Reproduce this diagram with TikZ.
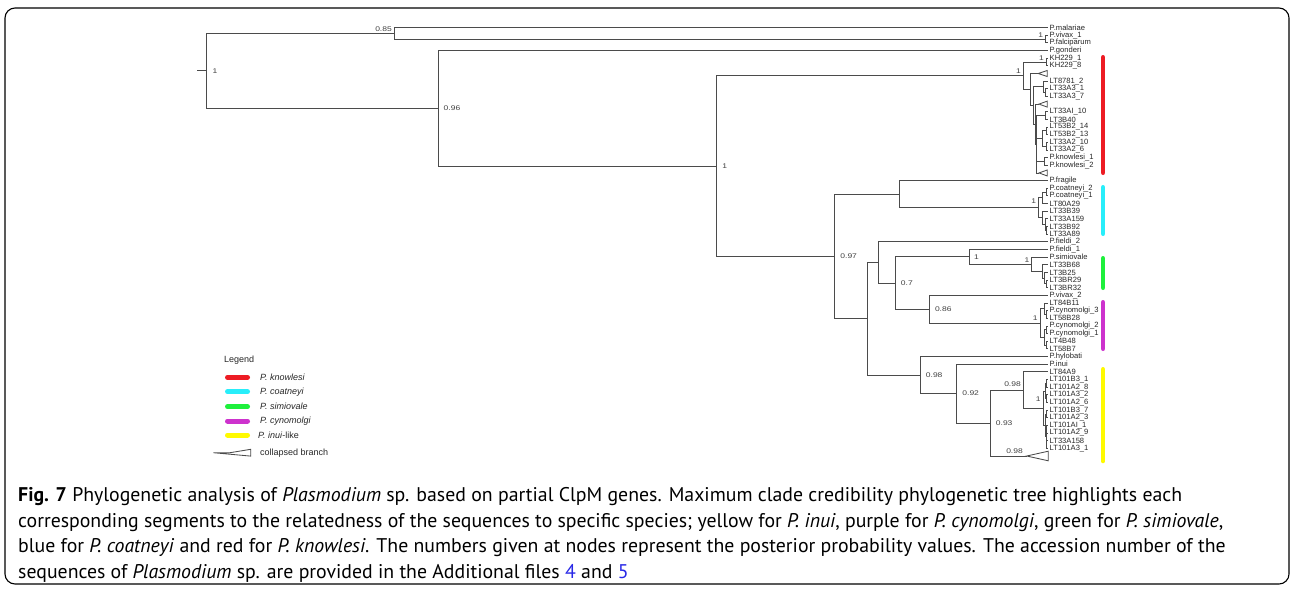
\documentclass[tikz,border=0pt]{standalone}
\usepackage{fontspec}
\setmainfont{Liberation Sans}
\newfontfamily\capfont{PT Sans}
\newfontfamily\suppfont[FakeStretch=1.25]{Liberation Sans}
\definecolor{kred}{RGB}{237,28,36}
\definecolor{kcyan}{RGB}{40,238,250}
\definecolor{kgreen}{RGB}{30,240,60}
\definecolor{kmag}{RGB}{205,50,205}
\definecolor{kyel}{RGB}{255,250,0}
\definecolor{linkblue}{RGB}{40,40,230}
\definecolor{treegray}{RGB}{75,75,75}
\begin{document}
\begin{tikzpicture}[x=1pt,y=-1pt,
  br/.style={draw=treegray,line width=0.85pt},
  leaf/.style={anchor=west,inner xsep=1.5pt,inner ysep=0.3pt,font=\fontsize{7.6}{8}\selectfont,text=black!85},
  supp/.style={font=\suppfont\fontsize{6.8}{7}\selectfont,text=black!75,inner sep=0.5pt},
  bar/.style={line width=4.6pt,line cap=round},
  lbar/.style={line width=5pt,line cap=round},
  legtext/.style={anchor=west,inner sep=0pt,font=\fontsize{9}{10}\selectfont,text=black!85},
  capline/.style={anchor=base west,inner sep=0pt,font=\capfont\fontsize{19.8}{22}\selectfont}]
\useasboundingbox (0,0) rectangle (1295,590);
\draw[line width=1.1pt,rounded corners=10pt] (5,8) rectangle (1289,584);

% leaves
\node[leaf] (L1) at (1048,27.6) {P.malariae};
\node[leaf] (L2) at (1048,35.25) {P.vivax\_1};
\node[leaf] (L3) at (1048,42.9) {P.falciparum};
\node[leaf] (L4) at (1048,50.55) {P.gonderi};
\node[leaf] (L5) at (1048,58.2) {KH229\_1};
\node[leaf] (L6) at (1048,65.85) {KH229\_8};
\node[leaf] (L8) at (1048,81.15) {LT8781\_2};
\node[leaf] (L9) at (1048,88.8) {LT33A3\_1};
\node[leaf] (L10) at (1048,96.45) {LT33A3\_7};
\node[leaf] (L12) at (1048,111.75) {LT33AI\_10};
\node[leaf] (L13) at (1048,119.4) {LT3B40};
\node[leaf] (L14) at (1048,127.05) {LT53B2\_14};
\node[leaf] (L15) at (1048,134.7) {LT53B2\_13};
\node[leaf] (L16) at (1048,142.35) {LT33A2\_10};
\node[leaf] (L17) at (1048,150.0) {LT33A2\_6};
\node[leaf] (L18) at (1048,157.65) {P.knowlesi\_1};
\node[leaf] (L19) at (1048,165.3) {P.knowlesi\_2};
\node[leaf] (L21) at (1048,180.6) {P.fragile};
\node[leaf] (L22) at (1048,188.25) {P.coatneyi\_2};
\node[leaf] (L23) at (1048,195.9) {P.coatneyi\_1};
\node[leaf] (L24) at (1048,203.55) {LT80A29};
\node[leaf] (L25) at (1048,211.2) {LT33B39};
\node[leaf] (L26) at (1048,218.85) {LT33A159};
\node[leaf] (L27) at (1048,226.5) {LT33B92};
\node[leaf] (L28) at (1048,234.15) {LT33A89};
\node[leaf] (L29) at (1048,241.8) {P.fieldi\_2};
\node[leaf] (L30) at (1048,249.45) {P.fieldi\_1};
\node[leaf] (L31) at (1048,257.1) {P.simiovale};
\node[leaf] (L32) at (1048,264.75) {LT33B68};
\node[leaf] (L33) at (1048,272.4) {LT3B25};
\node[leaf] (L34) at (1048,280.05) {LT3BR29};
\node[leaf] (L35) at (1048,287.7) {LT3BR32};
\node[leaf] (L36) at (1048,295.35) {P.vivax\_2};
\node[leaf] (L37) at (1048,303.0) {LT84B11};
\node[leaf] (L38) at (1048,310.65) {P.cynomolgi\_3};
\node[leaf] (L39) at (1048,318.3) {LT58B28};
\node[leaf] (L40) at (1048,325.95) {P.cynomolgi\_2};
\node[leaf] (L41) at (1048,333.6) {P.cynomolgi\_1};
\node[leaf] (L42) at (1048,341.25) {LT4B48};
\node[leaf] (L43) at (1048,348.9) {LT58B7};
\node[leaf] (L44) at (1048,356.55) {P.hylobati};
\node[leaf] (L45) at (1048,364.2) {P.inui};
\node[leaf] (L46) at (1048,371.85) {LT84A9};
\node[leaf] (L47) at (1048,379.5) {LT101B3\_1};
\node[leaf] (L48) at (1048,387.15) {LT101A2\_8};
\node[leaf] (L49) at (1048,394.8) {LT101A3\_2};
\node[leaf] (L50) at (1048,402.45) {LT101A2\_6};
\node[leaf] (L51) at (1048,410.1) {LT101B3\_7};
\node[leaf] (L52) at (1048,417.75) {LT101A2\_3};
\node[leaf] (L53) at (1048,425.4) {LT101AI\_1};
\node[leaf] (L54) at (1048,433.05) {LT101A2\_9};
\node[leaf] (L55) at (1048,440.7) {LT33A158};
\node[leaf] (L56) at (1048,448.35) {LT101A3\_1};

% internal nodes
\coordinate (Rs) at (197.3,70.85);
\coordinate (R) at (206,70.85);
\coordinate (N085) at (394,33.34);
\coordinate (Nvf) at (1045,39.08);
\coordinate (N096) at (438,108.35);
\coordinate (N1a) at (716.7,166.14);
\coordinate (Nk) at (1023.3,75.78);
\coordinate (Nkh) at (1046,62.03);
\coordinate (Nb) at (1030.7,89.52);
\coordinate (T7) at (1038.3,73.5);
\coordinate (Nc) at (1033.5,105.53);
\coordinate (Nd) at (1043,86.89);
\coordinate (Nd2) at (1045.5,92.63);
\coordinate (Ne) at (1035,124.18);
\coordinate (T11) at (1039,104.1);
\coordinate (Nf) at (1036.5,144.27);
\coordinate (Ng) at (1045,115.58);
\coordinate (Nh) at (1042,138.53);
\coordinate (Nh1) at (1046,130.88);
\coordinate (Nh2) at (1046,146.18);
\coordinate (Ni) at (1044.5,161.48);
\coordinate (T20) at (1039,172.95);
\coordinate (N097) at (834.7,256.49);
\coordinate (Nfr) at (899,194.23);
\coordinate (Ncoat) at (1038.5,207.86);
\coordinate (Nc1) at (1042,197.81);
\coordinate (Nc11) at (1046,192.08);
\coordinate (Nc2) at (1042.5,217.9);
\coordinate (Nc21) at (1045,224.59);
\coordinate (Nc22) at (1046.5,230.33);
\coordinate (N867) at (867.3,318.75);
\coordinate (N878) at (878.3,262.42);
\coordinate (N07) at (895.7,283.04);
\coordinate (N1s) at (969.3,256.86);
\coordinate (Nsim) at (1031.7,264.27);
\coordinate (Ns2) at (1042,271.44);
\coordinate (Ns3) at (1044.5,278.14);
\coordinate (Ns4) at (1046.5,283.88);
\coordinate (N086) at (929.3,309.22);
\coordinate (Ncyn) at (1040,323.08);
\coordinate (Ncy1) at (1044.5,308.74);
\coordinate (Ncy11) at (1046.5,314.48);
\coordinate (Ncy2) at (1044,337.43);
\coordinate (Ncy21) at (1046.5,329.78);
\coordinate (Ncy22) at (1046,345.08);
\coordinate (N098a) at (920.7,375.08);
\coordinate (N092) at (956.7,393.6);
\coordinate (N093) at (990.7,423.01);
\coordinate (N098b) at (1023.3,390.02);
\coordinate (T57) at (1026.7,456);
\coordinate (Nin) at (1043.3,408.19);
\coordinate (Nin1) at (1045.5,390.98);
\coordinate (Nin11) at (1046.8,383.33);
\coordinate (Nin12) at (1046.8,398.63);
\coordinate (Nin2) at (1045,425.4);
\coordinate (Nin21) at (1046.8,413.93);
\coordinate (Nin22) at (1046.3,436.88);

% branches
\draw[br] (Rs) -- (R);
\foreach \p/\c in {R/N085,R/N096,N085/L1,N085/Nvf,Nvf/L2,Nvf/L3,N096/L4,N096/N1a,
  N1a/Nk,N1a/N097,Nk/Nkh,Nk/Nb,Nkh/L5,Nkh/L6,Nb/T7,Nb/Nc,Nc/Nd,Nc/Ne,Nd/L8,Nd/Nd2,
  Nd2/L9,Nd2/L10,Ne/T11,Ne/Nf,Nf/Ng,Nf/Nh,Nf/Ni,Nf/T20,Ng/L12,Ng/L13,Nh/Nh1,Nh/Nh2,
  Nh1/L14,Nh1/L15,Nh2/L16,Nh2/L17,Ni/L18,Ni/L19,
  N097/Nfr,N097/N867,Nfr/L21,Nfr/Ncoat,Ncoat/Nc1,Ncoat/Nc2,Nc1/Nc11,Nc1/L24,
  Nc11/L22,Nc11/L23,Nc2/L25,Nc2/Nc21,Nc21/L26,Nc21/Nc22,Nc22/L27,Nc22/L28,
  N867/N878,N867/N098a,N878/L29,N878/N07,N07/N1s,N07/N086,N1s/L30,N1s/Nsim,
  Nsim/L31,Nsim/Ns2,Ns2/L32,Ns2/Ns3,Ns3/L33,Ns3/Ns4,Ns4/L34,Ns4/L35,
  N086/L36,N086/Ncyn,Ncyn/Ncy1,Ncyn/Ncy2,Ncy1/L37,Ncy1/Ncy11,Ncy11/L38,Ncy11/L39,
  Ncy2/Ncy21,Ncy2/Ncy22,Ncy21/L40,Ncy21/L41,Ncy22/L42,Ncy22/L43,
  N098a/L44,N098a/N092,N092/L45,N092/N093,N093/N098b,N093/T57,N098b/L46,N098b/Nin,
  Nin/Nin1,Nin/Nin2,Nin1/Nin11,Nin1/Nin12,Nin11/L47,Nin11/L48,Nin12/L49,Nin12/L50,
  Nin2/Nin21,Nin2/Nin22,Nin21/L51,Nin21/L52,Nin22/L53,Nin22/L54,Nin22/L55,Nin22/L56}
  {\draw[br] (\p) |- (\c);}

% collapsed branches
\draw[br] (T7) -- (1047.3,70.5) -- (1047.3,76.5) -- cycle;
\draw[br] (T11) -- (1047.3,101.1) -- (1047.3,107.1) -- cycle;
\draw[br] (T20) -- (1047.3,169.95) -- (1047.3,175.95) -- cycle;
\draw[br] (T57) -- (1048.3,451.2) -- (1048.3,460.8) -- cycle;

% support values
\node[supp,anchor=west] (sR) at ([xshift=6pt]R) {1};
\node[supp,anchor=south east] (s085) at (392.5,32) {0.85};
\node[supp,anchor=south east] (svf) at (1043.8,38) {1};
\node[supp,anchor=west] (s096) at ([xshift=5pt]N096) {0.96};
\node[supp,anchor=west] (s1a) at ([xshift=5pt]N1a) {1};
\node[supp,anchor=south east] (sk) at (1021.5,74.5) {1};
\node[supp,anchor=south east] (skh) at (1044.5,61) {1};
\node[supp,anchor=west] (s097) at ([xshift=5pt]N097) {0.97};
\node[supp,anchor=south east] (scoat) at (1036.8,204.5) {1};
\node[supp,anchor=west] (s07) at ([xshift=4.5pt]N07) {0.7};
\node[supp,anchor=west] (s1s) at ([xshift=4pt]N1s) {1};
\node[supp,anchor=south east] (ssim) at (1030,263) {1};
\node[supp,anchor=west] (s086) at ([xshift=5pt]N086) {0.86};
\node[supp,anchor=south east] (scyn) at (1038.3,321.5) {1};
\node[supp,anchor=west] (s098a) at ([xshift=4.5pt]N098a) {0.98};
\node[supp,anchor=west] (s092) at ([xshift=5pt]N092) {0.92};
\node[supp,anchor=west] (s093) at ([xshift=4.5pt]N093) {0.93};
\node[supp,anchor=south east] (s098b) at (1021.5,387.5) {0.98};
\node[supp,anchor=south east] (sin) at (1041.3,402) {1};
\node[supp,anchor=south east] (s098c) at (1023.5,454.5) {0.98};

% clade bars
\draw[bar,kred] (1103,57.3) coordinate (bk1) -- (1103,172.7) coordinate (bk2);
\draw[bar,kcyan] (1103,187.3) coordinate (bc1) -- (1103,233.7) coordinate (bc2);
\draw[bar,kgreen] (1103,258.3) coordinate (bs1) -- (1103,287.7) coordinate (bs2);
\draw[bar,kmag] (1103,302.3) coordinate (bm1) -- (1103,348.7) coordinate (bm2);
\draw[bar,kyel] (1103,369.3) coordinate (bi1) -- (1103,461) coordinate (bi2);

% legend
\node[legtext] (legend) at (224,360) {Legend};
\coordinate (lk1) at (227.5,377.3); \coordinate (lk2) at (247.5,377.3);
\coordinate (lc1) at (227.5,391.7); \coordinate (lc2) at (247.5,391.7);
\coordinate (ls1) at (227.5,406.7); \coordinate (ls2) at (247.5,406.7);
\coordinate (lm1) at (227.5,421); \coordinate (lm2) at (247.5,421);
\coordinate (li1) at (227.5,435); \coordinate (li2) at (247.5,435);
\draw[lbar,kred] (lk1) -- (lk2);
\draw[lbar,kcyan] (lc1) -- (lc2);
\draw[lbar,kgreen] (ls1) -- (ls2);
\draw[lbar,kmag] (lm1) -- (lm2);
\draw[lbar,kyel] (li1) -- (li2);
\node[legtext] (tk) at (260,377.3) {\itshape P. knowlesi};
\node[legtext] (tc) at (260,391.7) {\itshape P. coatneyi};
\node[legtext] (ts) at (260,406.7) {\itshape P. simiovale};
\node[legtext] (tm) at (260,421) {\itshape P. cynomolgi};
\node[legtext] (ti) at (258,435) {\itshape P. inui\/\upshape-like};
\coordinate (lt0) at (213.3,452.7);
\coordinate (lt1) at (230,452.7);
\draw[br] (lt0) -- (lt1) -- (250.7,449.3) -- (250.7,456.1) -- cycle;
\node[legtext] (tcb) at (260,452.7) {collapsed branch};

% caption
\node[capline] (cap1) at (18,501.5) {\textbf{Fig. 7} Phylogenetic analysis of \textit{Plasmodium} sp. based on partial ClpM genes. Maximum clade credibility phylogenetic tree highlights each};
\node[capline] (cap2) at (18,527) {corresponding segments to the relatedness of the sequences to specific species; yellow for \textit{P. inui}, purple for \textit{P. cynomolgi}, green for \textit{P. simiovale},};
\node[capline] (cap3) at (18,552.5) {blue for \textit{P. coatneyi} and red for \textit{P. knowlesi}. The numbers given at nodes represent the posterior probability values. The accession number of the};
\node[capline] (cap4) at (18,578) {sequences of \textit{Plasmodium} sp. are provided in the Additional files \textcolor{linkblue}{4} and \textcolor{linkblue}{5}};
\end{tikzpicture}
\end{document}
